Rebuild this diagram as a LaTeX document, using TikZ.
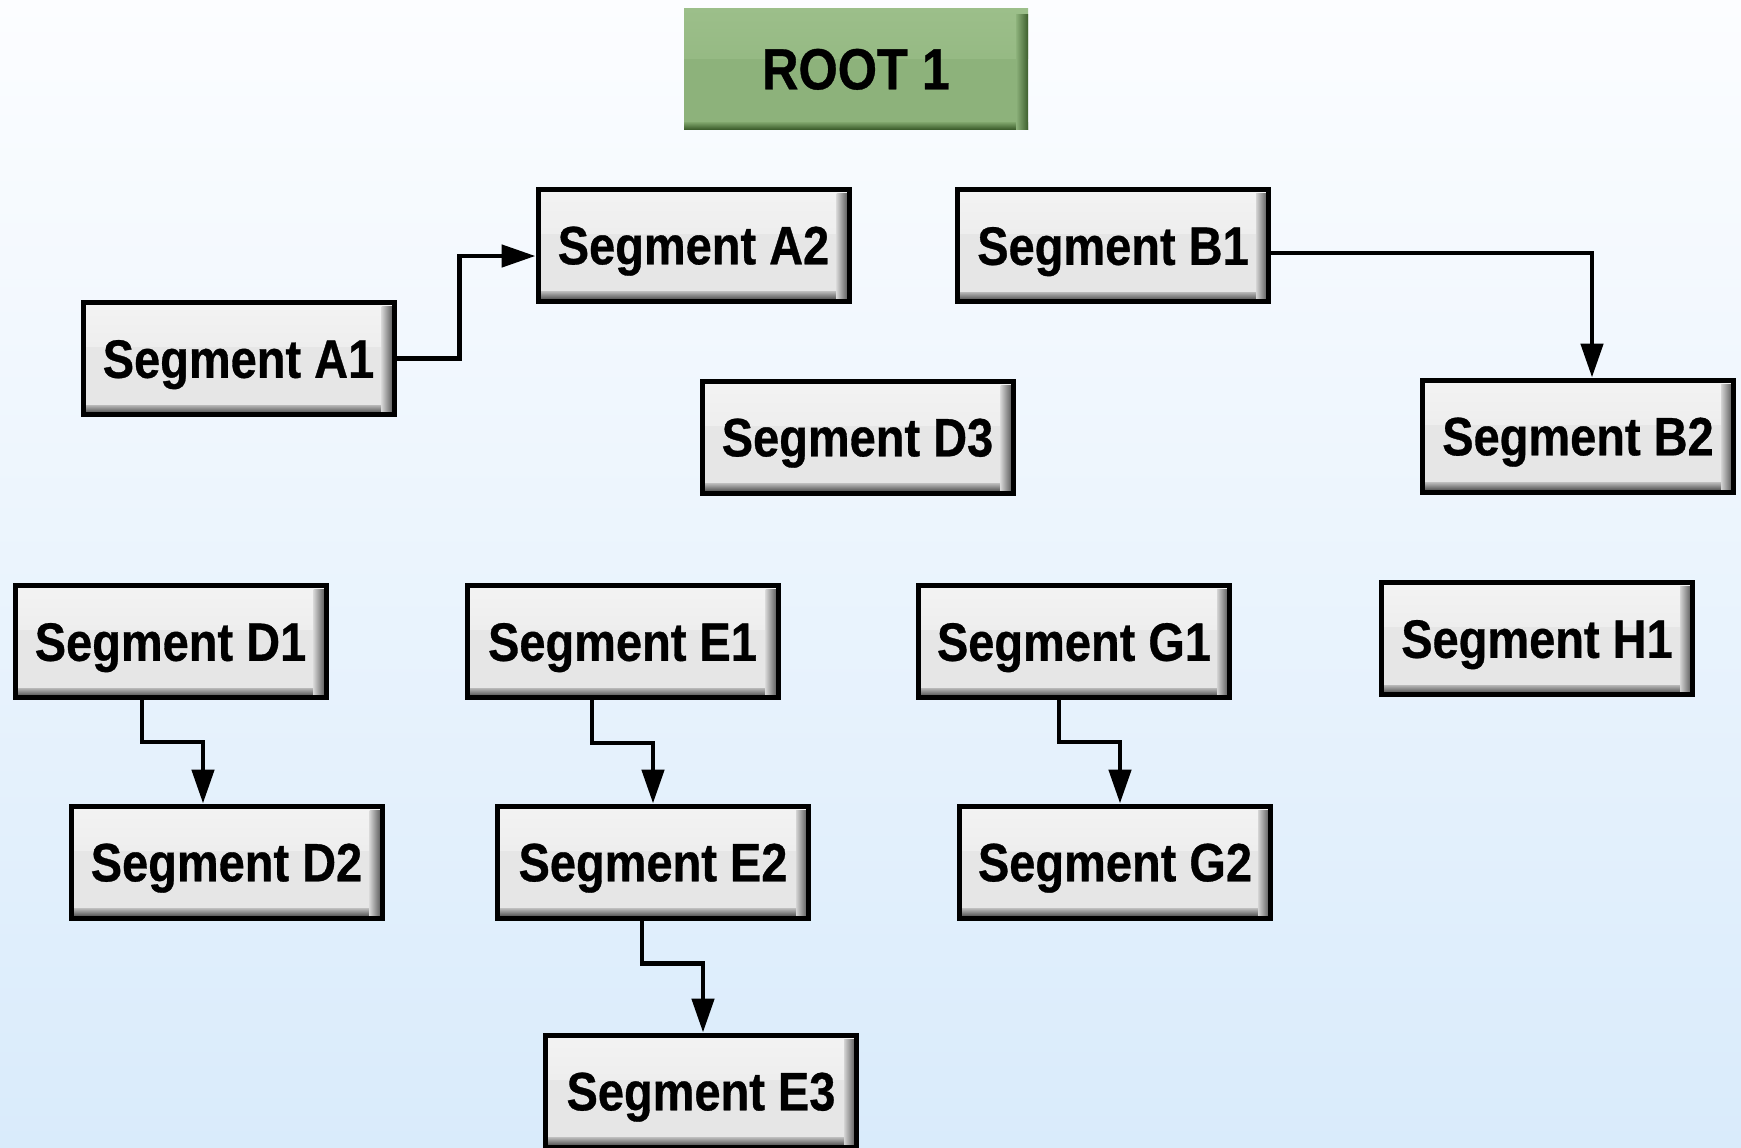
\documentclass[tikz,border=0pt]{standalone}
\usepackage{fontspec}
\newfontfamily\segfont{Liberation Sans}[FakeStretch=0.87,BoldFeatures={FakeBold=0.6}]
\usetikzlibrary{arrows.meta}
\definecolor{bgtop}{HTML}{FCFDFF}
\definecolor{bgbot}{HTML}{D9EBFB}
\definecolor{segbody}{HTML}{E6E6E6}
\definecolor{segtop}{HTML}{F3F3F3}
\definecolor{bevbotin}{HTML}{B8B8B8}
\definecolor{bevbotout}{HTML}{3C3C3C}
\definecolor{bevrin}{HTML}{D4D4D4}
\definecolor{bevrout}{HTML}{4C4C4C}
\definecolor{rootgreen}{HTML}{8DB27B}
\definecolor{roottop}{HTML}{9CBF8A}
\definecolor{rootdin}{HTML}{80A66D}
\definecolor{rootdout}{HTML}{3E5F2E}
\tikzset{
  segbox/.style={draw=black, line width=2.5pt, fill=segbody,
    minimum width=155.5pt, minimum height=56pt, inner sep=0pt,
    font=\segfont\bfseries\fontsize{27pt}{30pt}\selectfont,
    text height=19.3pt, text depth=0pt,
    path picture={
      \shade[top color=segtop, bottom color=segbody]
        (path picture bounding box.north west) rectangle ([yshift=-22pt]path picture bounding box.north east);
      \shade[top color=bevbotin, bottom color=bevbotout]
        ([yshift=4.75pt]path picture bounding box.south west) rectangle (path picture bounding box.south east);
      \shade[left color=bevrin, right color=bevrout]
        ([xshift=-6.25pt,yshift=-2pt]path picture bounding box.north east) rectangle (path picture bounding box.south east);
    }},
  rootbox/.style={fill=rootgreen, minimum width=172pt, minimum height=60.5pt, inner sep=0pt,
    font=\segfont\bfseries\fontsize{29pt}{32pt}\selectfont,
    text height=20.8pt, text depth=0pt,
    path picture={
      \shade[top color=roottop, bottom color=rootgreen]
        (path picture bounding box.north west) rectangle ([yshift=-25pt]path picture bounding box.north east);
      \shade[top color=rootdin, bottom color=rootdout]
        ([yshift=3.5pt]path picture bounding box.south west) rectangle (path picture bounding box.south east);
      \shade[left color=rootgreen, right color=rootdout]
        ([xshift=-6pt,yshift=-3pt]path picture bounding box.north east) rectangle (path picture bounding box.south east);
    }},
  conn/.style={draw=black, line width=2.4pt, -{Triangle[length=17pt,width=11pt]}},
}
\begin{document}
\begin{tikzpicture}[x=0.5pt,y=-0.5pt]
\useasboundingbox (0,0) rectangle (1741,1147);
\shade[top color=bgtop, bottom color=bgbot] (0,0) rectangle (1741,1147);

\node[rootbox] (R) at (856,68.5) {ROOT 1};
\node[segbox] (A1) at (238.5,358.5) {Segment A1};
\node[segbox] (A2) at (693.5,245) {Segment A2};
\node[segbox] (B1) at (1113,245.5) {Segment B1};
\node[segbox] (B2) at (1578,436) {Segment B2};
\node[segbox] (D3) at (857.5,437) {Segment D3};
\node[segbox] (D1) at (170.5,641.5) {Segment D1};
\node[segbox] (E1) at (622.5,641.5) {Segment E1};
\node[segbox] (G1) at (1074,641.5) {Segment G1};
\node[segbox] (H1) at (1537,638.5) {Segment H1};
\node[segbox] (D2) at (226.5,862) {Segment D2};
\node[segbox] (E2) at (653,862) {Segment E2};
\node[segbox] (G2) at (1115,862) {Segment G2};
\node[segbox] (E3) at (701,1091) {Segment E3};

\draw[conn] (A1.east) -- ++(31.5pt,0) |- ([yshift=-5.5pt]A2.west);
\draw[conn] ([yshift=-3.75pt]B1.east) -| ([xshift=7pt]B2.north);
\draw[conn] ([xshift=-14.25pt]D1.south) -- ++(0,-21pt) -| ([xshift=-11.75pt]D2.north);
\draw[conn] ([xshift=-15.25pt]E1.south) -- ++(0,-21.5pt) -| (E2.north);
\draw[conn] ([xshift=-7.5pt]G1.south) -- ++(0,-21pt) -| ([xshift=2.5pt]G2.north);
\draw[conn] ([xshift=-5.5pt]E2.south) -- ++(0,-21.5pt) -| ([xshift=1pt]E3.north);
\end{tikzpicture}
\end{document}
